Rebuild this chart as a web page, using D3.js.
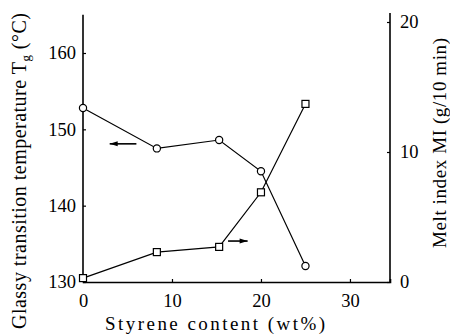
<!DOCTYPE html>
<html><head><meta charset="utf-8">
<script src="https://cdn.jsdelivr.net/npm/d3@7"></script>
<style>body{margin:0;background:#fff}svg text{font-family:"Liberation Serif","Times New Roman",serif;fill:#000}</style>
</head><body><svg id="c" width="450" height="334"></svg>
<script>
const styrene = [0, 8.3, 15.3, 20, 25];
const tg = [152.8, 147.5, 148.6, 144.5, 132.1];
const mi = [0.3, 2.3, 2.7, 6.9, 13.7];
const xTicks = [0, 10, 20, 30];
const tgTicks = [130, 140, 150, 160];
const miTicks = [0, 10, 20];

const svg = d3.select("#c");
const x = d3.scaleLinear().domain([0, 34.5]).range([83, 390]);
const yL = d3.scaleLinear().domain([130, 160]).range([282, 53]);
const yR = d3.scaleLinear().domain([0, 20]).range([282, 22]);

const tfs = 18.5;
// axes
const gx = svg.append("g").attr("transform", `translate(0,${yL(130)})`)
  .call(d3.axisBottom(x).tickValues(xTicks).tickSize(-3).tickPadding(12).tickFormat(d3.format("d")));
const gl = svg.append("g").attr("transform", `translate(${x(0)},0)`)
  .call(d3.axisLeft(yL).tickValues(tgTicks).tickSize(-3).tickPadding(7).tickFormat(d3.format("d")));
const gr = svg.append("g").attr("transform", `translate(${x(34.5)},0)`)
  .call(d3.axisRight(yR).tickValues(miTicks).tickSize(-3).tickPadding(10).tickFormat(d3.format("d")));
gl.select(".domain").attr("d", `M0,${yL(165)}V${yL(130)}`);
gr.select(".domain").attr("d", `M0,${yR(20.7)}V${yR(0)}`);
[gx, gl, gr].forEach(g => {
  g.selectAll(".domain").attr("stroke", "#000").attr("stroke-width", 1.6);
  g.selectAll(".tick line").attr("stroke", "#000").attr("stroke-width", 1.2);
  g.selectAll(".tick text").attr("font-size", tfs);
});

// lines
const lineL = d3.line().x((d, i) => x(styrene[i])).y(d => yL(d));
const lineR = d3.line().x((d, i) => x(styrene[i])).y(d => yR(d));
svg.append("path").attr("d", lineL(tg)).attr("fill", "none").attr("stroke", "#000").attr("stroke-width", 1.2);
svg.append("path").attr("d", lineR(mi)).attr("fill", "none").attr("stroke", "#000").attr("stroke-width", 1.2);
svg.selectAll(".c").data(tg).enter().append("circle")
  .attr("cx", (d, i) => x(styrene[i])).attr("cy", d => yL(d)).attr("r", 3.6)
  .attr("fill", "#fff").attr("stroke", "#000").attr("stroke-width", 1.2);
svg.selectAll(".s").data(mi).enter().append("rect")
  .attr("x", (d, i) => x(styrene[i]) - 3.5).attr("y", d => yR(d) - 3.5)
  .attr("width", 7).attr("height", 7)
  .attr("fill", "#fff").attr("stroke", "#000").attr("stroke-width", 1.2);

// arrows
function arrow(x1, x2, y, dir) {
  svg.append("line").attr("x1", x1).attr("x2", x2).attr("y1", y).attr("y2", y)
    .attr("stroke", "#000").attr("stroke-width", 1.6);
  const tip = dir < 0 ? Math.min(x1, x2) : Math.max(x1, x2);
  svg.append("path").attr("d", `M${tip},${y}L${tip - dir * 8},${y - 2.5}L${tip - dir * 8},${y + 2.5}Z`).attr("fill", "#000");
}
arrow(x(3.0), x(6.0), yL(148.1), -1);
arrow(x(16.3), x(18.5), yR(3.15), 1);

// axis titles
svg.append("text").attr("x", 215).attr("y", 330).attr("text-anchor", "middle")
  .attr("font-size", 19).attr("textLength", 220).attr("lengthAdjust", "spacing")
  .text("Styrene content (wt%)");
const lt = svg.append("text").attr("transform", "translate(26,171) rotate(-90)").attr("text-anchor", "middle")
  .attr("font-size", 20).attr("textLength", 316).attr("lengthAdjust", "spacing");
lt.append("tspan").text("Glassy transition temperature T");
lt.append("tspan").attr("font-size", 13).attr("dy", 4).text("g");
lt.append("tspan").attr("dy", -4).text(" (°C)");
svg.append("text").attr("transform", "translate(446,143) rotate(-90)").attr("text-anchor", "middle")
  .attr("font-size", 19).attr("textLength", 210).attr("lengthAdjust", "spacing")
  .text("Melt index MI (g/10 min)");
</script></body></html>
